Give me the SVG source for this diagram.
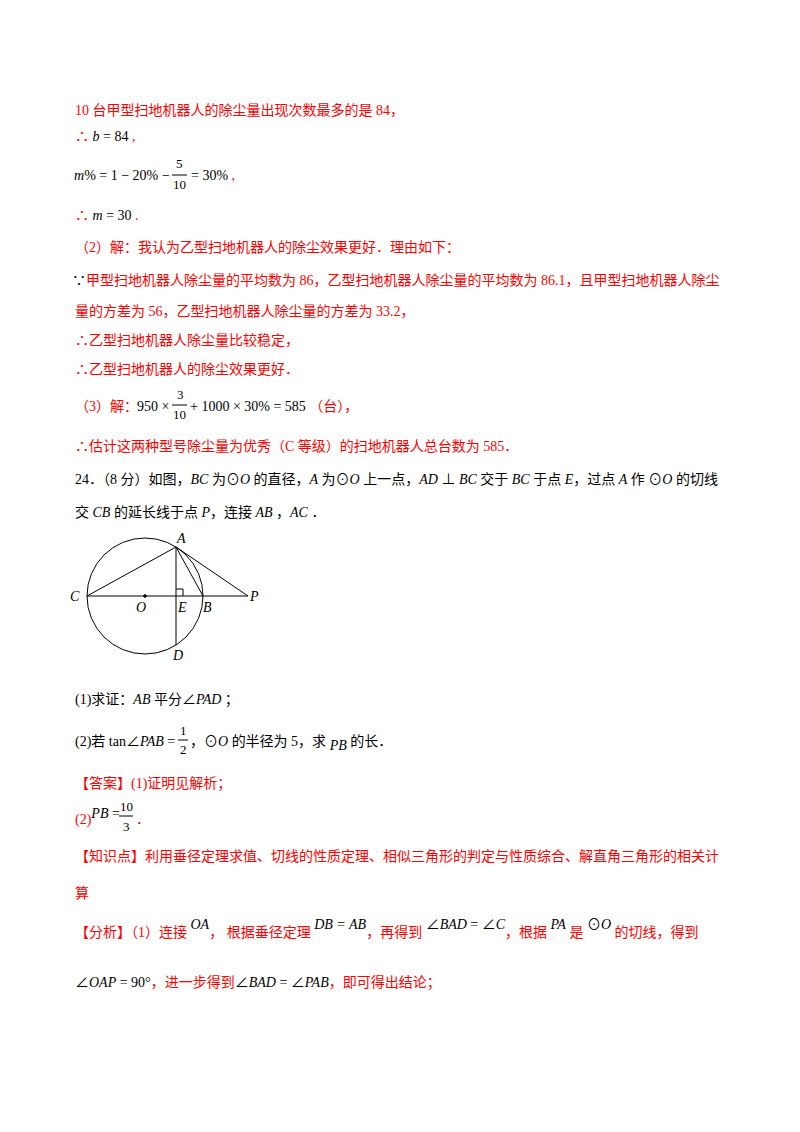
<svg xmlns="http://www.w3.org/2000/svg" width="800" height="1132" viewBox="0 0 800 1132">
<style>
text{font-family:"Liberation Serif","Noto Sans CJK SC",serif;font-size:14px;fill:#000}
.r{fill:#f00}
.i{font-style:italic}
.s{font-size:13px}
.f{stroke:#000;stroke-width:1;fill:none}
</style>
<rect width="800" height="1132" fill="#fff"/>
<g id="text">
<text class="r" x="75" y="115">10 台甲型扫地机器人的除尘量出现次数最多的是 84，</text>
<text x="75" y="141"><tspan class="r">∴</tspan> <tspan class="i">b</tspan> = 84<tspan class="r"> ,</tspan></text>
<text x="74" y="180"><tspan class="i">m</tspan>% = 1 − 20%</text>
<text x="162" y="180">−</text>
<text x="176" y="168" class="s">5</text><line x1="172" y1="175" x2="187" y2="175" class="f"/><text x="173" y="189" class="s">10</text>
<text x="191" y="180">= 30%<tspan class="r"> ,</tspan></text>
<text x="75" y="220"><tspan class="r">∴</tspan> <tspan class="i">m</tspan> = 30<tspan class="r"> .</tspan></text>
<text class="r" x="75" y="252">（2）解：我认为乙型扫地机器人的除尘效果更好．理由如下：</text>
<text class="r" x="72" y="285"><tspan fill="#000">∵</tspan>甲型扫地机器人除尘量的平均数为 86，乙型扫地机器人除尘量的平均数为 86.1，且甲型扫地机器人除尘</text>
<text class="r" x="75" y="316">量的方差为 56，乙型扫地机器人除尘量的方差为 33.2，</text>
<text class="r" x="75" y="345">∴乙型扫地机器人除尘量比较稳定，</text>
<text class="r" x="75" y="374">∴乙型扫地机器人的除尘效果更好．</text>
<text x="75" y="411"><tspan class="r">（3）解：</tspan></text>
<text x="137" y="411">950 ×</text>
<text x="177" y="399" class="s">3</text><line x1="172" y1="405" x2="187" y2="405" class="f"/><text x="173" y="419" class="s">10</text>
<text x="190" y="411">+ 1000 × 30% = 585 <tspan class="r">（台），</tspan></text>
<text class="r" x="75" y="451">∴估计这两种型号除尘量为优秀（C 等级）的扫地机器人总台数为 585．</text>
<text x="75" y="484">24．（8 分）如图，<tspan class="i">BC</tspan> 为⊙<tspan class="i">O</tspan> 的直径，<tspan class="i">A</tspan> 为⊙<tspan class="i">O</tspan> 上一点，<tspan class="i">AD</tspan> ⊥ <tspan class="i">BC</tspan> 交于 <tspan class="i">BC</tspan> 于点 <tspan class="i">E</tspan>，过点 <tspan class="i">A</tspan> 作 ⊙<tspan class="i">O</tspan> 的切线</text>
<text x="75" y="517">交 <tspan class="i">CB</tspan> 的延长线于点 <tspan class="i">P</tspan>，连接 <tspan class="i">AB</tspan> ，<tspan class="i">AC</tspan> ．</text>
<text x="75" y="704">(1)求证：<tspan class="i">AB</tspan> 平分∠<tspan class="i">PAD</tspan> ；</text>
<text x="75" y="746">(2)若 tan∠<tspan class="i">PAB</tspan> =</text>
<text x="180" y="735" class="s">1</text><line x1="178" y1="740" x2="188" y2="740" class="f"/><text x="180" y="754" class="s">2</text>
<text x="190" y="746">，⊙<tspan class="i">O</tspan> 的半径为 5，求 <tspan class="i" dy="4">PB</tspan><tspan dy="-4"> 的长．</tspan></text>
<text class="r" x="75" y="788">【答案】(1)证明见解析；</text>
<text x="75" y="824"><tspan class="r">(2)</tspan><tspan class="i" dy="-6">PB</tspan><tspan dy="0"> =</tspan></text>
<text x="120" y="811" class="s">10</text><line x1="119" y1="816" x2="133" y2="816" class="f"/><text x="123" y="831" class="s">3</text>
<text class="r" x="136" y="824">．</text>
<text class="r" x="75" y="861">【知识点】利用垂径定理求值、切线的性质定理、相似三角形的判定与性质综合、解直角三角形的相关计</text>
<text class="r" x="75" y="898">算</text>
<text class="r" x="75" y="937">【分析】（1）连接 <tspan class="i" fill="#000" dy="-8">OA</tspan><tspan dy="8">，  根据垂径定理 </tspan><tspan class="i" fill="#000" dy="-8">DB = AB</tspan><tspan dy="8">，再得到 </tspan><tspan fill="#000" dy="-8">∠<tspan class="i">BAD</tspan> = ∠<tspan class="i">C</tspan></tspan><tspan dy="8">，根据 </tspan><tspan class="i" fill="#000" dy="-8">PA</tspan><tspan dy="8"> 是 </tspan><tspan fill="#000" dy="-8">⊙<tspan class="i">O</tspan></tspan><tspan dy="8"> 的切线，得到</tspan></text>
<text class="r" x="75" y="987"><tspan fill="#000">∠<tspan class="i">OAP</tspan> = 90°</tspan>，进一步得到<tspan fill="#000">∠<tspan class="i">BAD</tspan> = ∠<tspan class="i">PAB</tspan></tspan>，即可得出结论；</text>
</g>
<g id="figure" class="f">
<circle cx="145" cy="596" r="58"/>
<line x1="87" y1="596" x2="248" y2="596"/>
<line x1="176" y1="547" x2="176" y2="645"/>
<line x1="87" y1="596" x2="176" y2="547"/>
<line x1="176" y1="547" x2="203" y2="596"/>
<line x1="176" y1="547" x2="248" y2="596"/>
<polyline points="176,589 183,589 183,596"/>
<circle cx="145" cy="596" r="1.3" fill="#000"/>
</g>
<g id="labels">
<text class="i" x="70" y="601">C</text><text class="i" x="136" y="612">O</text>
<text class="i" x="178" y="612">E</text><text class="i" x="203" y="612">B</text>
<text class="i" x="250" y="601">P</text><text class="i" x="177" y="543">A</text>
<text class="i" x="173" y="660">D</text>
</g>
</svg>
